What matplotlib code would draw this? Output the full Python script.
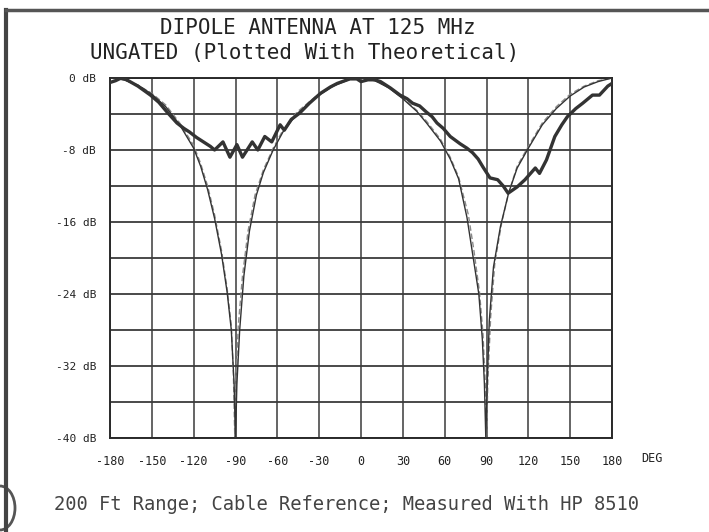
import matplotlib
matplotlib.use("Agg")
import matplotlib.pyplot as plt
from matplotlib.patches import Arc

# ---------------- data ----------------
meas_deg = [-180, -176, -172, -168, -160, -151, -145, -139, -132, -127, -123, -118,
            -113, -108, -105, -99, -94, -89, -85, -78, -74, -69, -64, -58, -55, -50,
            -44, -37, -29, -22, -17, -8, -3, 0, 5, 10, 14, 21, 28, 33, 37, 42, 47,
            51, 54.5, 59, 64, 71, 76, 80, 84, 87.5, 92.5, 98, 102, 105.5, 112,
            117.6, 125, 128, 133, 136, 139, 144, 148, 154, 159, 166, 171, 174, 177, 180]
meas_db = [-0.5, -0.3, 0.0, -0.2, -0.9, -1.9, -2.7, -3.8, -5.0, -5.6, -6.0, -6.6,
           -7.1, -7.6, -8.0, -7.1, -8.8, -7.4, -8.8, -7.1, -8.0, -6.5, -7.1, -5.2, -5.8, -4.6,
           -3.9, -2.8, -1.7, -1.0, -0.6, -0.1, -0.1, -0.4, -0.2, -0.2, -0.4, -1.1, -1.9, -2.3, -2.8, -3.1, -3.8,
           -4.3, -5.0, -5.6, -6.5, -7.3, -7.8, -8.3, -9.0, -9.9, -11.1, -11.3, -12.0, -12.8, -12.1,
           -11.3, -10.0, -10.6, -9.1, -7.8, -6.5, -5.2, -4.3, -3.4, -2.8, -1.9, -1.9, -1.4, -0.9, -0.6]

theo_deg = [-180, -170, -160, -150, -140, -130, -120, -115, -110, -105, -100, -96, -93,
            -91, -90, -89, -87, -84, -80, -75, -70, -63, -56, -46, -32, -20, -8, 0,
            10, 20, 30, 40, 47, 57, 64, 70, 76, 80, 84.5, 87, 88.5, 89.5, 90.5, 92,
            95, 100, 106, 112, 120, 130, 140, 150, 160, 170, 180]
theo_db = [0.0, -0.2, -0.8, -1.8, -3.2, -5.2, -7.8, -9.8, -12.4, -15.6, -19.6, -23.8, -28,
           -34, -40, -34, -28, -22, -17, -13, -10.5, -8.0, -6.0, -4.0, -2.1, -0.9, -0.15, 0.0,
           -0.3, -1.1, -2.3, -3.7, -5.0, -7.0, -9.0, -11.2, -15.5, -19.5, -24, -29, -34, -40, -34, -27,
           -21, -16.5, -12.7, -10.0, -7.8, -5.2, -3.4, -2.0, -1.0, -0.4, 0.0]

theo2_deg = [-180, -170, -160, -150, -140, -130, -120, -115, -110, -105, -100, -96, -93,
             -91.5, -90.5, -89.5, -88, -85, -81, -76, -70, -63, -56, -46, -32, -20, -8, 0,
             10, 20, 30, 40, 47, 57, 64, 70, 77, 81, 85, 87.5, 89, 90, 91, 93,
             96, 101, 106, 112, 120, 130, 140, 150, 160, 170, 180]
theo2_db = [0.0, -0.2, -0.8, -1.7, -3.0, -5.0, -7.5, -9.5, -12.0, -15.2, -19.2, -23.4, -27.5,
            -33, -40, -33, -27.5, -22, -17, -13, -10.2, -7.8, -5.8, -3.8, -2.0, -0.8, -0.1, 0.0,
            -0.3, -1.0, -2.2, -3.6, -4.8, -6.8, -8.8, -11.0, -15.2, -19.2, -23.8, -28.5, -33.5, -40, -33.5, -26.5,
            -20.5, -16.0, -12.7, -9.8, -7.6, -5.0, -3.2, -1.8, -0.9, -0.3, 0.0]

x_ticks = [-180, -150, -120, -90, -60, -30, 0, 30, 60, 90, 120, 150, 180]
x_ticklabels = ["-180", "-150", "-120", "-90", "-60", "-30", "0", "30", "60", "90",
                "120", "150", "180"]
y_ticks = [0, -8, -16, -24, -32, -40]
y_ticklabels = ["0 dB", "-8 dB", "-16 dB", "-24 dB", "-32 dB", "-40 dB"]

title1 = "DIPOLE ANTENNA AT 125 MHz"
title2 = "UNGATED (Plotted With Theoretical)"
footer = "200 Ft Range; Cable Reference; Measured With HP 8510"

# ---------------- figure ----------------
W, H = 709, 532
fig = plt.figure(figsize=(W / 100, H / 100), dpi=100)
fig.patch.set_facecolor("white")
mono = "DejaVu Sans Mono"

ax = fig.add_axes([110 / W, 1 - 438 / H, (612 - 110) / W, (438 - 78) / H])
ax.set_xlim(-180, 180)
ax.set_ylim(-40, 0)

# grid
for gx in range(-180, 181, 30):
    ax.axvline(gx, color="#3a3a3a", lw=1.1, zorder=1)
for gy in range(-40, 1, 4):
    ax.axhline(gy, color="#3a3a3a", lw=1.3, zorder=1)

for s in ax.spines.values():
    s.set_color("#2a2a2a")
    s.set_linewidth(1.4)

ax.plot(theo2_deg, theo2_db, color="#8a8a8a", lw=1.0, ls=(0, (4, 2)), zorder=2)
ax.plot(theo_deg, theo_db, color="#333333", lw=1.0, zorder=3)
ax.plot(meas_deg, meas_db, color="#333333", lw=2.4, zorder=4)

ax.set_xticks(x_ticks)
ax.set_xticklabels(x_ticklabels, fontfamily=mono, fontsize=8.5, color="#222222")
ax.set_yticks(y_ticks)
ax.set_yticklabels(y_ticklabels, fontfamily=mono, fontsize=8, color="#222222")
ax.tick_params(length=0, pad=10)
ax.tick_params(axis="x", pad=12)

fig.text(652 / W, 1 - 458 / H, "DEG", fontfamily=mono, fontsize=8.5, color="#222222",
         ha="center", va="center")

fig.text(318 / W, 1 - 28 / H, title1, fontfamily=mono, fontsize=15, color="#222222",
         ha="center", va="center")
fig.text(305 / W, 1 - 53 / H, title2, fontfamily=mono, fontsize=15, color="#222222",
         ha="center", va="center")
fig.text(347 / W, 1 - 505 / H, footer, fontfamily=mono, fontsize=13.5, color="#444444",
         ha="center", va="center")

# scanned page frame
fig.add_artist(plt.Line2D([6 / W, 6 / W], [0, 1 - 10 / H], transform=fig.transFigure,
                          color="#444444", lw=3))
fig.add_artist(plt.Line2D([6 / W, 1], [1 - 10 / H, 1 - 10 / H], transform=fig.transFigure,
                          color="#555555", lw=2.5))
fig.add_artist(Arc((0, 1 - 508 / H), 30 / W, 44 / H, theta1=-90, theta2=90,
                   transform=fig.transFigure, color="#555555", lw=2))

fig.savefig("out.png", dpi=100, facecolor="white")
